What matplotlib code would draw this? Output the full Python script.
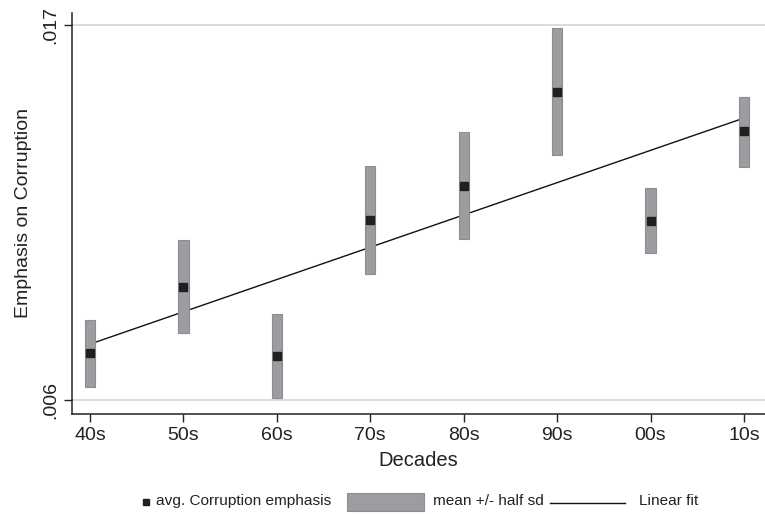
import matplotlib.pyplot as plt
from matplotlib.patches import Rectangle
from matplotlib.lines import Line2D

plt.rcParams['font.family'] = ['Liberation Sans', 'DejaVu Sans']

decades = ['40s', '50s', '60s', '70s', '80s', '90s', '00s', '10s']
means = [0.00738, 0.00932, 0.00729, 0.01128, 0.01228, 0.01504, 0.01125, 0.01389]
band_low = [0.00638, 0.00797, 0.00606, 0.00970, 0.01072, 0.01319, 0.01031, 0.01284]
band_high = [0.00835, 0.01069, 0.00852, 0.01286, 0.01386, 0.01691, 0.01222, 0.01489]
fit_x = [0, 7]
fit_y = [0.00764, 0.01427]
y_ticks = [0.006, 0.017]
y_ticklabels = ['.006', '.017']

bar_color = '#9c9da0'
bar_edge = '#8c8d90'
marker_color = '#231f20'

fig = plt.figure(figsize=(7.65, 5.14), dpi=100)
ax = fig.add_axes([72 / 765, 1 - 414 / 514, 1 - 72 / 765, (414 - 13) / 514])

x = list(range(len(decades)))

for yt in y_ticks:
    ax.axhline(yt, color='#d4d4d4', lw=1.2, zorder=0)

ax.plot(fit_x, fit_y, color='#111111', lw=1.0, zorder=2)

heights = [h - l for h, l in zip(band_high, band_low)]
ax.bar(x, heights, bottom=band_low, width=0.11, color=bar_color,
       edgecolor=bar_edge, linewidth=0.8, zorder=3)

ax.plot(x, means, 's', color=marker_color, markersize=5.5, zorder=4)

ax.set_xlim(-0.193, 7.225)
ax.set_ylim(0.005589, 0.017352)
ax.set_xticks(x)
ax.set_xticklabels(decades, fontsize=14, color='#222222')
ax.set_yticks(y_ticks)
ax.set_yticklabels(y_ticklabels, fontsize=14, rotation=90, va='center', color='#222222')
ax.tick_params(length=6, width=1, color='#222222')

ax.spines['top'].set_visible(False)
ax.spines['right'].set_visible(False)
for s in ['left', 'bottom']:
    ax.spines[s].set_linewidth(1.1)
    ax.spines[s].set_color('#222222')

ax.set_xlabel('Decades', fontsize=14.5, color='#222222', labelpad=5)
ax.set_ylabel('Emphasis on Corruption', fontsize=14, color='#222222', labelpad=7)

# legend drawn in pixel positions under the plot
W, H = 765, 514
def fx(px):
    return px / W
def fy(py):
    return 1 - py / H

ly = 501
fig.add_artist(Line2D([fx(146)], [fy(ly + 1)], marker='s', color=marker_color,
                      markersize=4.5, transform=fig.transFigure))
fig.text(fx(156), fy(ly), 'avg. Corruption emphasis', fontsize=11.1,
         va='center', ha='left', color='#222222')
fig.add_artist(Rectangle((fx(347), fy(511)), fx(424) - fx(347), fy(493) - fy(511),
                         facecolor=bar_color, edgecolor=bar_edge, lw=0.8,
                         transform=fig.transFigure))
fig.text(fx(433), fy(ly), 'mean +/- half sd', fontsize=11.1,
         va='center', ha='left', color='#222222')
fig.add_artist(Line2D([fx(550), fx(625)], [fy(503), fy(503)], color='#111111',
                      lw=1.0, transform=fig.transFigure))
fig.text(fx(639), fy(ly), 'Linear fit', fontsize=11.1,
         va='center', ha='left', color='#222222')

fig.savefig('out.png', dpi=100)
